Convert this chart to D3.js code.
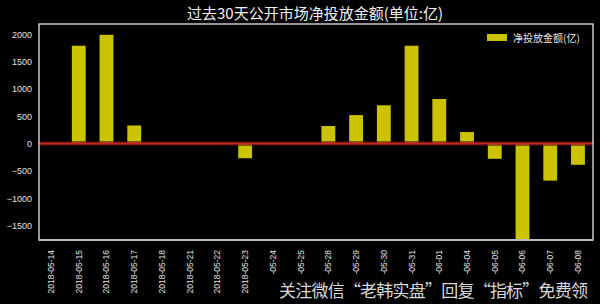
<!DOCTYPE html>
<html>
<head>
<meta charset="utf-8">
<script src="https://cdn.jsdelivr.net/npm/d3@7"></script>
<style>
html,body{margin:0;padding:0;background:#000;}
svg{display:block;}
</style>
</head>
<body>
<svg id="chart" width="600" height="304"></svg>
<script>
const categories = ["2018-05-14","2018-05-15","2018-05-16","2018-05-17","2018-05-18","2018-05-21","2018-05-22","2018-05-23","2018-05-24","2018-05-25","2018-05-28","2018-05-29","2018-05-30","2018-05-31","2018-06-01","2018-06-04","2018-06-05","2018-06-06","2018-06-07","2018-06-08"];
const values = [0, 1790, 1990, 330, 0, 0, 0, -270, 0, 0, 320, 520, 700, 1790, 815, 210, -280, -1800, -680, -390];
const yTicks = [-1500, -1000, -500, 0, 500, 1000, 1500, 2000];
const seriesName = "净投放金额(亿)";
const titleText = "过去30天公开市场净投放金额(单位:亿)";
const watermarkText = "关注微信“老韩实盘”回复“指标”免费领";

const svg = d3.select("#chart");
const W = 600, H = 304;
const m = {left: 39, right: 7, top: 24, bottom: 64};
const x0 = m.left, x1 = W - m.right, y0 = m.top, y1 = H - m.bottom;
const font = "'Noto Sans CJK SC', 'Liberation Sans', sans-serif";

svg.append("rect").attr("width", W).attr("height", H).attr("fill", "#000");

const x = d3.scaleBand().domain(categories).range([x0 - 1, x1 - 2]).paddingInner(0.5).paddingOuter(0.22);
const y = d3.scaleLinear().domain([-1767, 2188]).range([y1, y0]);

// title
svg.append("text").attr("x", 315).attr("y", 19).attr("text-anchor", "middle")
  .attr("fill", "#f2f2f2").attr("font-family", font).attr("font-size", 15).text(titleText);

// clip
svg.append("clipPath").attr("id", "clip").append("rect")
  .attr("x", x0).attr("y", y0).attr("width", x1 - x0).attr("height", y1 - y0);

const g = svg.append("g").attr("clip-path", "url(#clip)");

// bars
g.selectAll("rect.bar").data(categories.map((c, i) => ({c, v: values[i]})).filter(d => d.v !== 0))
  .enter().append("rect").attr("class", "bar")
  .attr("x", d => x(d.c))
  .attr("width", x.bandwidth())
  .attr("y", d => y(Math.max(0, d.v)))
  .attr("height", d => Math.abs(y(d.v) - y(0)))
  .attr("fill", "#cbc200");

// zero line glow + line
g.append("line").attr("x1", x0).attr("x2", x1).attr("y1", y(0)).attr("y2", y(0))
  .attr("stroke", "#5a1010").attr("stroke-width", 5).attr("opacity", 0.6);
g.append("line").attr("x1", x0).attr("x2", x1).attr("y1", y(0)).attr("y2", y(0))
  .attr("stroke", "#c4281e").attr("stroke-width", 2);

// frame
svg.append("rect").attr("x", x0).attr("y", y0).attr("width", x1 - x0).attr("height", y1 - y0)
  .attr("fill", "none").attr("stroke", "#e6e6e6").attr("stroke-width", 1.3);
svg.append("line").attr("x1", x0).attr("x2", x1).attr("y1", y1).attr("y2", y1)
  .attr("stroke", "#bdbdbd").attr("stroke-width", 2);

// y axis
const yAxis = svg.append("g").attr("transform", `translate(${x0},0)`)
  .call(d3.axisLeft(y).tickValues(yTicks).tickSize(0).tickPadding(7).tickFormat(d3.format("d")));
yAxis.select(".domain").remove();
yAxis.selectAll("text").attr("fill", "#e0e0e0").attr("font-family", "'Liberation Sans', sans-serif").attr("font-size", 9);

// x axis
const xAxis = svg.append("g").attr("transform", `translate(0,${y1})`)
  .call(d3.axisBottom(x).tickSize(0).tickPadding(0));
xAxis.select(".domain").remove();
xAxis.selectAll("text")
  .attr("fill", "#e0e0e0").attr("font-family", "'Liberation Sans', sans-serif").attr("font-size", 8.5)
  .attr("transform", "rotate(-90)")
  .attr("text-anchor", "end")
  .attr("x", -10).attr("y", 0).attr("dy", "0.35em");

// legend
const lg = svg.append("g");
lg.append("rect").attr("x", 487).attr("y", 34).attr("width", 20).attr("height", 7).attr("fill", "#cbc200");
lg.append("text").attr("x", 513).attr("y", 41.5).attr("fill", "#e6e6e6")
  .attr("font-family", font).attr("font-size", 10).text(seriesName);

// watermark
svg.append("rect").attr("x", 266).attr("y", 274).attr("width", 334).attr("height", 30).attr("fill", "#000");
svg.append("text").attr("x", 279).attr("y", 297).attr("fill", "#d8d8d8")
  .attr("font-family", font).attr("font-size", 17).attr("textLength", 309).text(watermarkText);
</script>
</body>
</html>
